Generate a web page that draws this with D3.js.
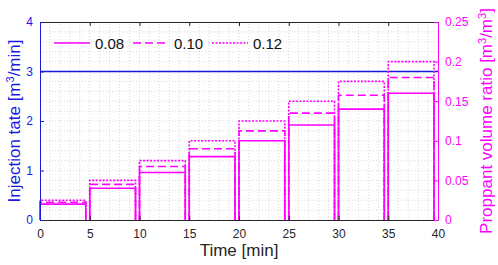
<!DOCTYPE html>
<html>
<head>
<meta charset="utf-8">
<script src="https://cdn.jsdelivr.net/npm/d3@7"></script>
<style>
  body { margin: 0; background: #fff; }
  svg { font-family: "Liberation Sans", Arial, sans-serif; }
</style>
</head>
<body>
<div id="chart"></div>
<script>
// stage timing [min]
const stageStart = [0, 5, 10, 15, 20, 25, 30, 35];
const stageEnd = [4.6, 9.6, 14.6, 19.6, 24.6, 29.6, 34.6, 39.6];

// proppant volume ratio per stage, one array per legend entry
const seriesNames = ['0.08', '0.10', '0.12'];
const ratio008 = [0.02, 0.04, 0.06, 0.08, 0.10, 0.12, 0.14, 0.16];
const ratio010 = [0.0225, 0.045, 0.0675, 0.09, 0.1125, 0.135, 0.1575, 0.18];
const ratio012 = [0.025, 0.05, 0.075, 0.10, 0.125, 0.15, 0.175, 0.20];

// injection rate [m3/min]
const injectionRate = 3;

const xTicks = [0, 5, 10, 15, 20, 25, 30, 35, 40];
const yLeftTicks = [0, 1, 2, 3, 4];
const yRightTicks = [0, 0.05, 0.1, 0.15, 0.2, 0.25];

const W = 498, H = 265;
const margin = {top: 22, right: 60, bottom: 45, left: 40};
const blue = '#1a1adf', magenta = '#ff00ff', axisGrey = '#262626';

const svg = d3.select('#chart').append('svg')
    .attr('width', W).attr('height', H);

const x = d3.scaleLinear().domain([0, 40]).range([margin.left, W - margin.right]);
const yL = d3.scaleLinear().domain([0, 4]).range([H - margin.bottom, margin.top]);
const yR = d3.scaleLinear().domain([0, 0.25]).range([H - margin.bottom, margin.top]);

// minor grid (dotted)
const grid = svg.append('g').attr('stroke', '#cfcfcf').attr('stroke-width', 0.8)
    .attr('stroke-dasharray', '1,2');
grid.selectAll('.gx').data(d3.range(1, 40)).enter().append('line')
    .attr('x1', d => x(d)).attr('x2', d => x(d))
    .attr('y1', yL(0)).attr('y2', yL(4));
grid.selectAll('.gy').data(d3.range(1, 20).map(d => d * 0.2)).enter().append('line')
    .attr('x1', x(0)).attr('x2', x(40))
    .attr('y1', d => yL(d)).attr('y2', d => yL(d));

// injection rate line
svg.append('line')
    .attr('x1', x(0)).attr('x2', x(40))
    .attr('y1', yL(injectionRate)).attr('y2', yL(injectionRate))
    .attr('stroke', blue).attr('stroke-width', 1.6);

// stepped proppant ratio series
const series = [
    {name: seriesNames[0], values: ratio008, dash: null},
    {name: seriesNames[1], values: ratio010, dash: '8,4'},
    {name: seriesNames[2], values: ratio012, dash: '2,1.5'}
];
const line = d3.line().x(d => x(d[0])).y(d => yR(d[1]));

series.forEach(s => {
    stageStart.forEach((t0, i) => {
        const t1 = stageEnd[i];
        const v = s.values[i];
        svg.append('path')
            .attr('d', line([[t0, 0], [t0, v], [t1, v], [t1, 0]]))
            .attr('fill', 'none')
            .attr('stroke', magenta)
            .attr('stroke-width', 1.6)
            .attr('stroke-dasharray', s.dash);
    });
});

// axes
const xBottom = svg.append('g')
    .attr('transform', `translate(0,${yL(0)})`)
    .call(d3.axisBottom(x).tickValues(xTicks).tickSizeInner(-4).tickSizeOuter(0).tickPadding(9));
xBottom.select('.domain').attr('stroke', axisGrey);
xBottom.selectAll('.tick line').attr('stroke', axisGrey);
xBottom.selectAll('text').attr('font-size', 12).attr('fill', axisGrey)
    .attr('font-family', '"Liberation Sans", Arial, sans-serif');

const xTop = svg.append('g')
    .attr('transform', `translate(0,${yL(4)})`)
    .call(d3.axisTop(x).tickValues(xTicks).tickSizeInner(-4).tickSizeOuter(0).tickFormat(''));
xTop.select('.domain').attr('stroke', axisGrey);
xTop.selectAll('.tick line').attr('stroke', axisGrey);

const yLeft = svg.append('g')
    .attr('transform', `translate(${x(0)},0)`)
    .call(d3.axisLeft(yL).tickValues(yLeftTicks).tickSizeInner(-4).tickSizeOuter(0).tickPadding(7)
        .tickFormat(d3.format('d')));
yLeft.select('.domain').attr('stroke', blue);
yLeft.selectAll('.tick line').attr('stroke', blue);
yLeft.selectAll('text').attr('font-size', 12).attr('fill', blue)
    .attr('font-family', '"Liberation Sans", Arial, sans-serif');

const yRight = svg.append('g')
    .attr('transform', `translate(${x(40)},0)`)
    .call(d3.axisRight(yR).tickValues(yRightTicks).tickSizeInner(-4).tickSizeOuter(0).tickPadding(7)
        .tickFormat(d => d === 0 ? '0' : String(+d.toFixed(2))));
yRight.select('.domain').attr('stroke', magenta);
yRight.selectAll('.tick line').attr('stroke', magenta);
yRight.selectAll('text').attr('font-size', 12).attr('fill', magenta)
    .attr('font-family', '"Liberation Sans", Arial, sans-serif');

// axis labels
svg.append('text')
    .attr('x', (x(0) + x(40)) / 2).attr('y', 256)
    .attr('text-anchor', 'middle').attr('font-size', 17).attr('fill', axisGrey)
    .text('Time [min]');

const leftLabel = svg.append('text')
    .attr('transform', `translate(20,${(yL(0) + yL(4)) / 2}) rotate(-90)`)
    .attr('text-anchor', 'middle').attr('font-size', 17).attr('fill', blue);
leftLabel.append('tspan').text('Injection tate [m');
leftLabel.append('tspan').attr('dy', -6).attr('font-size', 11).text('3');
leftLabel.append('tspan').attr('dy', 6).text('/min]');

const rightLabel = svg.append('text')
    .attr('transform', `translate(492,${(yL(0) + yL(4)) / 2}) rotate(-90)`)
    .attr('text-anchor', 'middle').attr('font-size', 17).attr('fill', magenta);
rightLabel.append('tspan').text('Proppant volume ratio [m');
rightLabel.append('tspan').attr('dy', -6).attr('font-size', 11).text('3');
rightLabel.append('tspan').attr('dy', 6).text('/m');
rightLabel.append('tspan').attr('dy', -6).attr('font-size', 11).text('3');
rightLabel.append('tspan').attr('dy', 6).text(']');

// legend
const legendX = [54, 133, 212];
const legend = svg.append('g');
series.forEach((s, i) => {
    legend.append('line')
        .attr('x1', legendX[i]).attr('x2', legendX[i] + 36)
        .attr('y1', 43).attr('y2', 43)
        .attr('stroke', magenta).attr('stroke-width', 1.6)
        .attr('stroke-dasharray', s.dash);
    legend.append('text')
        .attr('x', legendX[i] + 41).attr('y', 48.5)
        .attr('font-size', 15).attr('fill', '#111')
        .text(s.name);
});
</script>
</body>
</html>
